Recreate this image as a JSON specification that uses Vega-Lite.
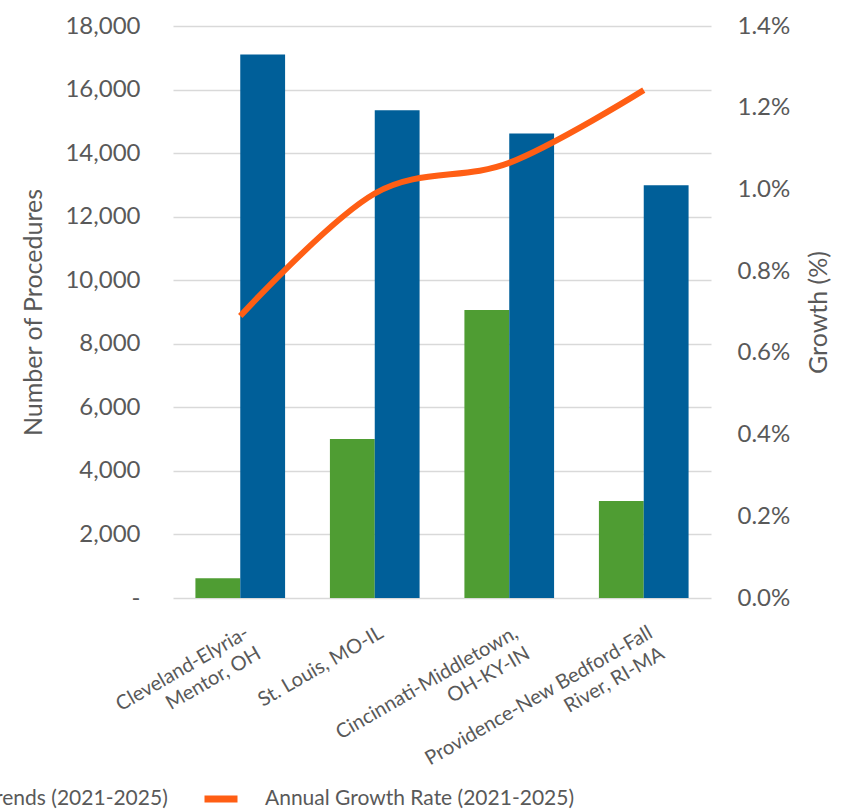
{
  "$schema": "https://vega.github.io/schema/vega-lite/v6.json",
  "width": 538,
  "height": 572,
  "autosize": {"type": "none"},
  "padding": {"left": 173, "top": 26, "right": 135, "bottom": 213},
  "background": "white",
  "config": {
    "view": {"stroke": null},
    "font": "Lato",
    "legend": {"padding": 0}
  },
  "datasets": {
    "bars": [
      {"metro": "Cleveland-Elyria-\nMentor, OH", "series": "Procedure Volume (2021)", "procedures": 620},
      {"metro": "Cleveland-Elyria-\nMentor, OH", "series": "Procedure Trends (2021-2025)", "procedures": 17100},
      {"metro": "St. Louis, MO-IL", "series": "Procedure Volume (2021)", "procedures": 5000},
      {"metro": "St. Louis, MO-IL", "series": "Procedure Trends (2021-2025)", "procedures": 15350},
      {"metro": "Cincinnati-Middletown,\nOH-KY-IN", "series": "Procedure Volume (2021)", "procedures": 9060},
      {"metro": "Cincinnati-Middletown,\nOH-KY-IN", "series": "Procedure Trends (2021-2025)", "procedures": 14620},
      {"metro": "Providence-New Bedford-Fall\nRiver, RI-MA", "series": "Procedure Volume (2021)", "procedures": 3050},
      {"metro": "Providence-New Bedford-Fall\nRiver, RI-MA", "series": "Procedure Trends (2021-2025)", "procedures": 12990}
    ],
    "growth": [
      {"metro": "Cleveland-Elyria-\nMentor, OH", "growth": 0.69},
      {"metro": "St. Louis, MO-IL", "growth": 0.99},
      {"metro": "Cincinnati-Middletown,\nOH-KY-IN", "growth": 1.065},
      {"metro": "Providence-New Bedford-Fall\nRiver, RI-MA", "growth": 1.243}
    ]
  },
  "layer": [
    {
      "data": {"name": "bars"},
      "mark": {"type": "bar"},
      "encoding": {
        "x": {
          "field": "metro",
          "type": "nominal",
          "scale": {
            "domain": ["Cleveland-Elyria-\nMentor, OH", "St. Louis, MO-IL", "Cincinnati-Middletown,\nOH-KY-IN", "Providence-New Bedford-Fall\nRiver, RI-MA"],
            "paddingInner": 0.3333,
            "paddingOuter": 0.1667
          },
          "axis": {
            "orient": "bottom",
            "title": null,
            "domain": false,
            "ticks": false,
            "grid": false,
            "labelAngle": -30,
            "labelAlign": "right",
            "labelBaseline": "middle",
            "labelPadding": 33,
            "labelOffset": 7,
            "labelFontSize": 20,
            "labelColor": "#595959",
            "labelLimit": 0,
            "labelOverlap": false,
            "labelLineHeight": 24,
            "labelExpr": "split(datum.label, '\\n')"
          }
        },
        "xOffset": {
          "field": "series",
          "type": "nominal",
          "sort": ["Procedure Volume (2021)", "Procedure Trends (2021-2025)"],
          "scale": {"paddingInner": 0, "paddingOuter": 0}
        },
        "y": {
          "field": "procedures",
          "type": "quantitative",
          "scale": {"domain": [0, 18000], "nice": false},
          "axis": {
            "orient": "left",
            "values": [0, 2000, 4000, 6000, 8000, 10000, 12000, 14000, 16000, 18000],
            "grid": true,
            "gridColor": "#D9D9D9",
            "gridWidth": 1.5,
            "domain": false,
            "ticks": false,
            "labelPadding": 33,
            "labelFontSize": 24,
            "labelColor": "#595959",
            "labelExpr": "datum.value == 0 ? '-\u2002' : format(datum.value, ',')",
            "title": "Number of Procedures",
            "titleFontSize": 25,
            "titleFontWeight": "normal",
            "titleColor": "#595959",
            "titleAngle": 270,
            "titleAlign": "center",
            "titleBaseline": "middle",
            "titleX": -140,
            "titleY": 286
          }
        },
        "fill": {
          "field": "series",
          "type": "nominal",
          "scale": {
            "domain": ["Procedure Volume (2021)", "Procedure Trends (2021-2025)"],
            "range": ["#4F9D33", "#005F99"]
          },
          "legend": {
            "orient": "none",
            "direction": "horizontal",
            "legendX": -624,
            "legendY": 762,
            "title": null,
            "labelFontSize": 21,
            "labelColor": "#595959",
            "labelLimit": 0,
            "symbolType": "square",
            "symbolSize": 169,
            "symbolStrokeWidth": 0,
            "columnPadding": 40,
            "labelOffset": 10
          }
        }
      }
    },
    {
      "data": {"name": "growth"},
      "mark": {"type": "line", "interpolate": "cardinal", "tension": 0, "strokeWidth": 6, "strokeCap": "butt"},
      "encoding": {
        "x": {"field": "metro", "type": "nominal"},
        "y": {
          "field": "growth",
          "type": "quantitative",
          "scale": {"domain": [0, 1.4], "nice": false},
          "axis": {
            "orient": "right",
            "values": [0, 0.2, 0.4, 0.6, 0.8, 1.0, 1.2, 1.4],
            "grid": false,
            "domain": false,
            "ticks": false,
            "labelPadding": 26,
            "labelFontSize": 24,
            "labelColor": "#595959",
            "labelExpr": "format(datum.value, '.1f') + '%'",
            "title": "Growth (%)",
            "titleFontSize": 25,
            "titleFontWeight": "normal",
            "titleColor": "#595959",
            "titleAngle": 270,
            "titleAlign": "center",
            "titleBaseline": "middle",
            "titleX": 107,
            "titleY": 286
          }
        },
        "stroke": {
          "datum": "Annual Growth Rate (2021-2025)",
          "type": "nominal",
          "scale": {"range": ["#FF5E14"]},
          "legend": {
            "orient": "none",
            "legendX": 28,
            "legendY": 753,
            "title": null,
            "labelFontSize": 21,
            "labelColor": "#595959",
            "labelLimit": 0,
            "symbolType": "stroke",
            "symbolSize": 1089,
            "symbolStrokeWidth": 7,
            "symbolStrokeColor": "#FF8C00",
            "labelOffset": 24
          }
        }
      }
    }
  ],
  "resolve": {"scale": {"y": "independent"}}
}
